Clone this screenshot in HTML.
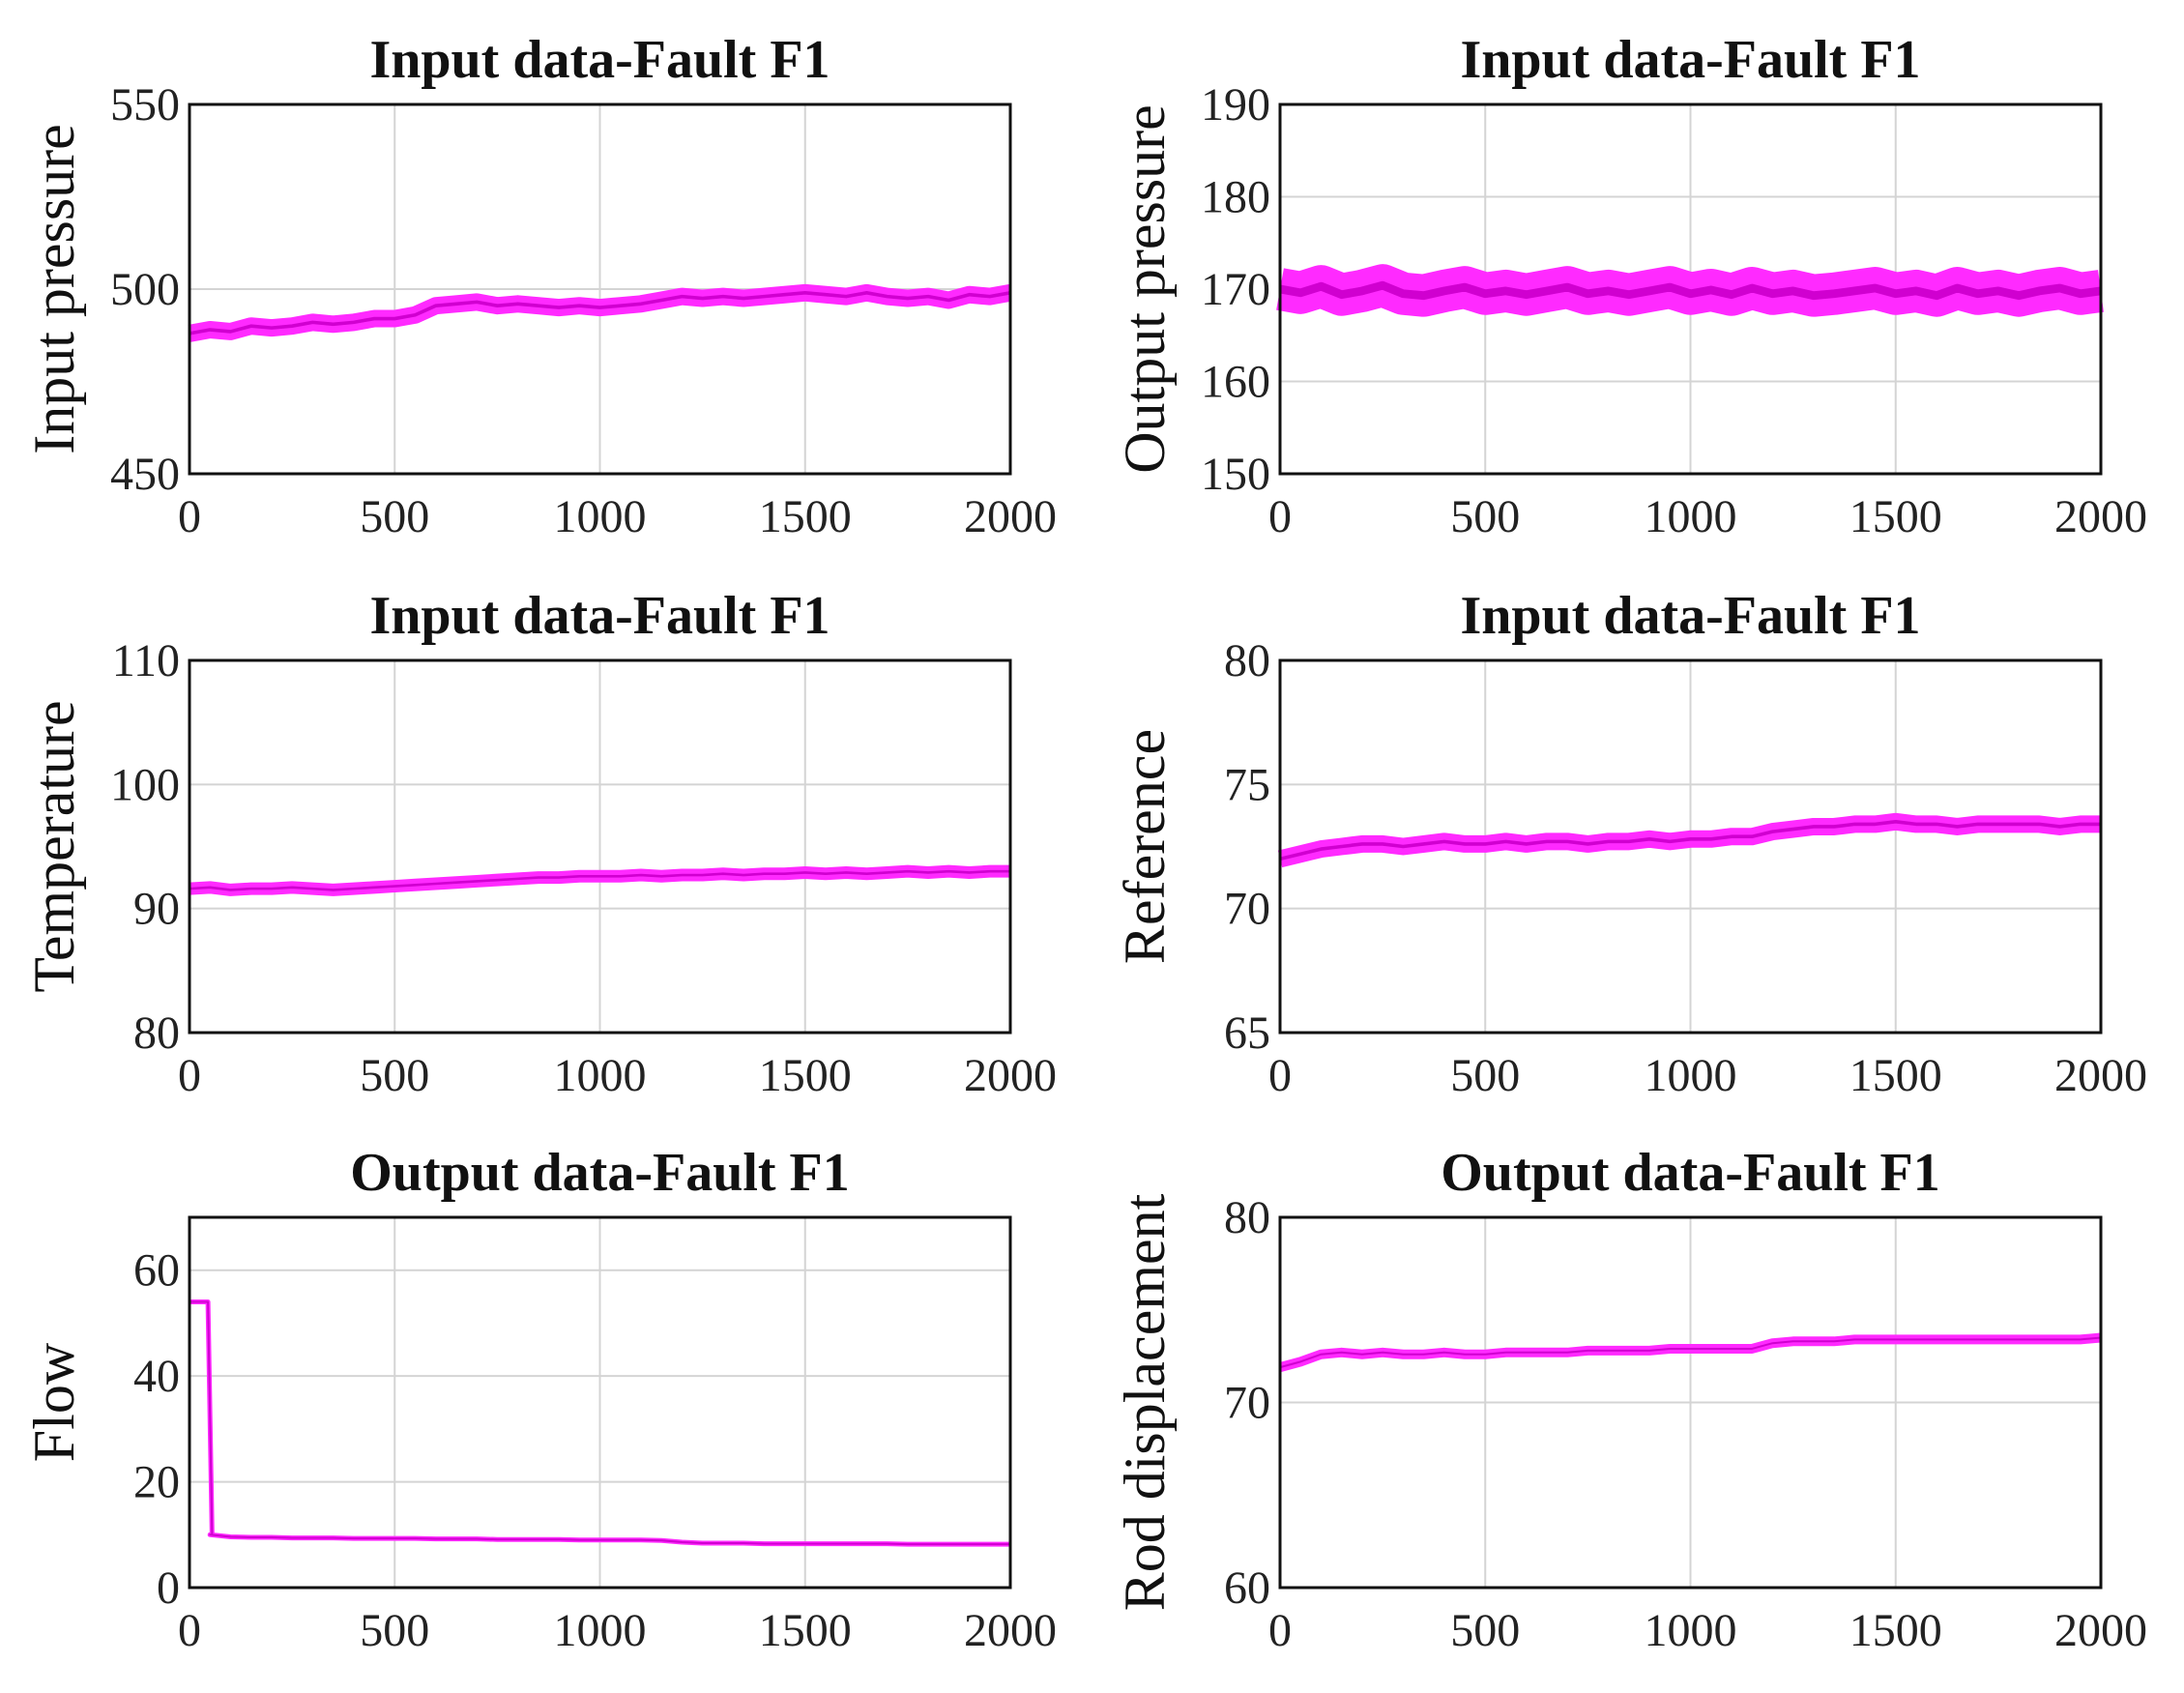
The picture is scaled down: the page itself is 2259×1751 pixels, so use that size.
<!DOCTYPE html>
<html><head><meta charset="utf-8"><style>
html,body{margin:0;padding:0;background:#fff;}
svg{display:block;font-family:"Liberation Serif",serif;}
</style></head><body>
<svg id="fig" width="2259" height="1751" viewBox="0 0 2259 1751"></svg>
<script>
const xTicks=[0,500,1000,1500,2000];
const sampleX=[0,50,100,150,200,250,300,350,400,450,500,550,600,650,700,750,800,850,900,950,1000,1050,1100,1150,1200,1250,1300,1350,1400,1450,1500,1550,1600,1650,1700,1750,1800,1850,1900,1950,2000];
const inputPressure=[488,489,488.5,490,489.5,490,491,490.5,491,492,492,493,495.5,496,496.5,495.5,496,495.5,495,495.5,495,495.5,496,497,498,497.5,498,497.5,498,498.5,499,498.5,498,499,498,497.5,498,497,498.5,498,499];
const outputPressure=[170,169.6,170.3,169.4,169.8,170.4,169.5,169.3,169.8,170.2,169.5,169.8,169.4,169.8,170.2,169.5,169.8,169.4,169.8,170.2,169.5,169.9,169.4,170.1,169.5,169.8,169.3,169.5,169.8,170.1,169.5,169.8,169.3,170.1,169.5,169.8,169.3,169.8,170.1,169.5,169.8];
const temperature=[91.6,91.7,91.5,91.6,91.6,91.7,91.6,91.5,91.6,91.7,91.8,91.9,92,92.1,92.2,92.3,92.4,92.5,92.5,92.6,92.6,92.6,92.7,92.6,92.7,92.7,92.8,92.7,92.8,92.8,92.9,92.8,92.9,92.8,92.9,93,92.9,93,92.9,93,93];
const reference=[72,72.2,72.4,72.5,72.6,72.6,72.5,72.6,72.7,72.6,72.6,72.7,72.6,72.7,72.7,72.6,72.7,72.7,72.8,72.7,72.8,72.8,72.9,72.9,73.1,73.2,73.3,73.3,73.4,73.4,73.5,73.4,73.4,73.3,73.4,73.4,73.4,73.4,73.3,73.4,73.4];
const flow=[54,10,9.6,9.5,9.5,9.4,9.4,9.4,9.3,9.3,9.3,9.3,9.2,9.2,9.2,9.1,9.1,9.1,9.1,9,9,9,9,8.9,8.6,8.4,8.4,8.4,8.3,8.3,8.3,8.3,8.3,8.3,8.3,8.2,8.2,8.2,8.2,8.2,8.2];
const rodDisp=[71.9,72.2,72.6,72.7,72.6,72.7,72.6,72.6,72.7,72.6,72.6,72.7,72.7,72.7,72.7,72.8,72.8,72.8,72.8,72.9,72.9,72.9,72.9,72.9,73.2,73.3,73.3,73.3,73.4,73.4,73.4,73.4,73.4,73.4,73.4,73.4,73.4,73.4,73.4,73.4,73.5];
const flowStep=[[0,54],[45,54],[55,10]];

const charts=[
 {name:'input-pressure',title:'Input data-Fault F1',ylabel:'Input pressure',x0:196,x1:1045,y0:108,y1:490,ymin:450,ymax:550,yticks:[450,500,550],data:inputPressure,band:18},
 {name:'output-pressure',title:'Input data-Fault F1',ylabel:'Output pressure',x0:1324,x1:2173,y0:108,y1:490,ymin:150,ymax:190,yticks:[150,160,170,180,190],data:outputPressure,band:44},
 {name:'temperature',title:'Input data-Fault F1',ylabel:'Temperature',x0:196,x1:1045,y0:683,y1:1068,ymin:80,ymax:110,yticks:[80,90,100,110],data:temperature,band:13},
 {name:'reference',title:'Input data-Fault F1',ylabel:'Reference',x0:1324,x1:2173,y0:683,y1:1068,ymin:65,ymax:80,yticks:[65,70,75,80],data:reference,band:18},
 {name:'flow',title:'Output data-Fault F1',ylabel:'Flow',x0:196,x1:1045,y0:1259,y1:1642,ymin:0,ymax:70,yticks:[0,20,40,60],data:flow,band:5,flow:true},
 {name:'rod-displacement',title:'Output data-Fault F1',ylabel:'Rod displacement',x0:1324,x1:2173,y0:1259,y1:1642,ymin:60,ymax:80,yticks:[60,70,80],data:rodDisp,band:10}
];
const NS='http://www.w3.org/2000/svg';
const svg=document.getElementById('fig');
function mk(tag,attrs,parent){const e=document.createElementNS(NS,tag);for(const k in attrs)e.setAttribute(k,attrs[k]);parent.appendChild(e);return e;}
charts.forEach(c=>{
 const g=mk('g',{},svg);
 
 
 const xs=v=>c.x0+(v-0)/(2000-0)*(c.x1-c.x0);
 const ys=v=>c.y1-(v-c.ymin)/(c.ymax-c.ymin)*(c.y1-c.y0);
 xTicks.forEach(t=>{
  const l=mk('line',{x1:xs(t),x2:xs(t),y1:c.y0,y2:c.y1,stroke:'#d4d4d4','stroke-width':2},g);
  
  
  const tx=mk('text',{x:xs(t),y:c.y1+60,'text-anchor':'middle','font-size':48,fill:'#222'},g);
  tx.textContent=t;
  
  
 });
 c.yticks.forEach(t=>{
  const l=mk('line',{x1:c.x0,x2:c.x1,y1:ys(t),y2:ys(t),stroke:'#d4d4d4','stroke-width':2},g);
  
  
  const tx=mk('text',{x:c.x0-10,y:ys(t)+16,'text-anchor':'end','font-size':48,fill:'#222'},g);
  tx.textContent=t;
  
  
 });
 let pts;
 if(c.flow){
  pts=flowStep.map(p=>xs(p[0])+','+ys(p[1]));
  c.data.forEach((v,i)=>{if(i>0)pts.push(xs(sampleX[i])+','+ys(v));});
 } else pts=c.data.map((v,i)=>xs(sampleX[i])+','+ys(v));
 const band=mk('polyline',{points:pts.join(' '),fill:'none',stroke:'#ff2aff','stroke-width':c.band,'stroke-linejoin':'round'},g);
 
 
 const core=mk('polyline',{points:pts.join(' '),fill:'none',stroke:'#d000d0','stroke-width':Math.max(2,c.band/5),'stroke-linejoin':'round'},g);
 
 
 const fr=mk('rect',{x:c.x0,y:c.y0,width:c.x1-c.x0,height:c.y1-c.y0,fill:'none',stroke:'#111','stroke-width':3},g);
 
 
 const ti=mk('text',{x:(c.x0+c.x1)/2,y:c.y0-28,'text-anchor':'middle','font-size':56,'font-weight':'bold',fill:'#111'},g);
 ti.textContent=c.title;
 
 
 const yl=mk('text',{x:0,y:0,'text-anchor':'middle','font-size':60,fill:'#111',transform:`translate(${c.x0-120},${(c.y0+c.y1)/2}) rotate(-90)`},g);
 yl.textContent=c.ylabel;
 
 
});
</script>
</body></html>
